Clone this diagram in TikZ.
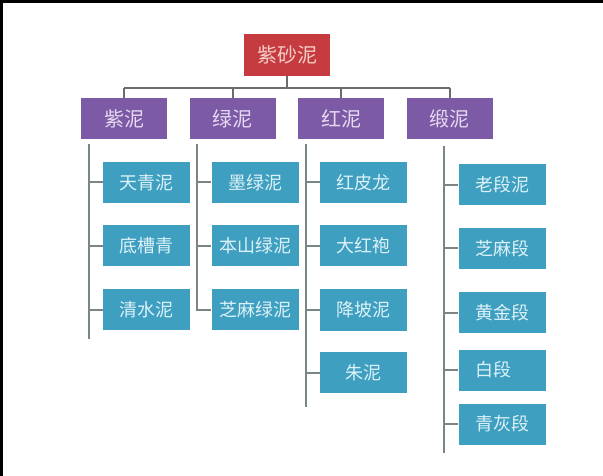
\documentclass[tikz,border=0pt]{standalone}
\usepackage{fontspec}
\setmainfont{Noto Sans CJK SC}
\definecolor{rootfill}{HTML}{C63B40}
\definecolor{roottext}{HTML}{F3CFC7}
\definecolor{midfill}{HTML}{7C5AA5}
\definecolor{midtext}{HTML}{E6DAF2}
\definecolor{leaffill}{HTML}{3F9FC0}
\definecolor{leaftext}{HTML}{DDF2F8}
\definecolor{topline}{HTML}{6B6B6B}
\definecolor{colline}{HTML}{7A8585}
\tikzset{
  rootbox/.style={rectangle, fill=rootfill, text=roottext, minimum width=86bp, minimum height=42bp, inner sep=0pt, font=\fontsize{20bp}{22bp}\selectfont},
  midbox/.style={rectangle, fill=midfill, text=midtext, minimum width=86bp, minimum height=41bp, inner sep=0pt, font=\fontsize{20bp}{22bp}\selectfont},
  leafbox/.style={rectangle, fill=leaffill, text=leaftext, minimum width=87bp, minimum height=41bp, inner sep=0pt, font=\fontsize{18bp}{20bp}\selectfont},
  topconn/.style={draw=topline, line width=2bp},
  colconn/.style={draw=colline, line width=2bp},
}
\begin{document}
\begin{tikzpicture}[x=1bp, y=-1bp]
\useasboundingbox (0,0) rectangle (603,476);
\fill[white] (0,0) rectangle (603,476);
\fill[black] (0,0) rectangle (603,3);
\fill[black] (0,0) rectangle (3,476);

% root
\node[rootbox] (root) at (287,55) {紫砂泥};
% level 2
\node[midbox] (m1) at (124,118.5) {紫泥};
\node[midbox] (m2) at (232.5,118.5) {绿泥};
\node[midbox] (m3) at (341,118.5) {红泥};
\node[midbox] (m4) at (449.5,118.5) {缎泥};

\coordinate (bar) at (287,88);
\draw[topconn] (root.south) -- (root.south |- bar);
\draw[topconn] (m1.north |- bar) -- (m4.north |- bar);
\foreach \m in {m1,m2,m3,m4} \draw[topconn] (\m.north |- bar) -- (\m.north);

% column 1
\node[leafbox] (a1) at (146.5,182.5) {天青泥};
\node[leafbox] (a2) at (146.5,246) {底槽青};
\node[leafbox] (a3) at (146.5,309.5) {清水泥};
% column 2
\node[leafbox] (b1) at (255,182.5) {墨绿泥};
\node[leafbox] (b2) at (255,246) {本山绿泥};
\node[leafbox] (b3) at (255,309.5) {芝麻绿泥};
% column 3
\node[leafbox] (c1) at (363.5,182.5) {红皮龙};
\node[leafbox] (c2) at (363.5,246) {大红袍};
\node[leafbox] (c3) at (363.5,310) {降坡泥};
\node[leafbox] (c4) at (363.5,372.5) {朱泥};
% column 4
\node[leafbox] (d1) at (502,185) {老段泥};
\node[leafbox] (d2) at (502,248.5) {芝麻段};
\node[leafbox] (d3) at (502,312.5) {黄金段};
\node[leafbox] (d4) at (502,370) {白段\hphantom{段}};
\node[leafbox] (d5) at (502,424) {青灰段};

% column lines
\coordinate (atop) at (89,144);   \coordinate (abot) at (89,339);
\coordinate (btop) at (197,144);
\coordinate (ctop) at (306,144);  \coordinate (cbot) at (306,407);
\coordinate (dtop) at (444,146);  \coordinate (dbot) at (444,453);

\draw[colconn] (atop) -- (abot);
\foreach \n in {a1,a2,a3} \draw[colconn] (atop |- \n.west) -- (\n.west);

\draw[colconn] (btop) -- (btop |- b3.west) -- (b3.west);
\foreach \n in {b1,b2} \draw[colconn] (btop |- \n.west) -- (\n.west);

\draw[colconn] (ctop) -- (cbot);
\foreach \n in {c1,c2,c3,c4} \draw[colconn] (ctop |- \n.west) -- (\n.west);

\draw[colconn] (dtop) -- (dbot);
\foreach \n in {d1,d2,d3,d4,d5} \draw[colconn] (dtop |- \n.west) -- (\n.west);
\end{tikzpicture}
\end{document}
